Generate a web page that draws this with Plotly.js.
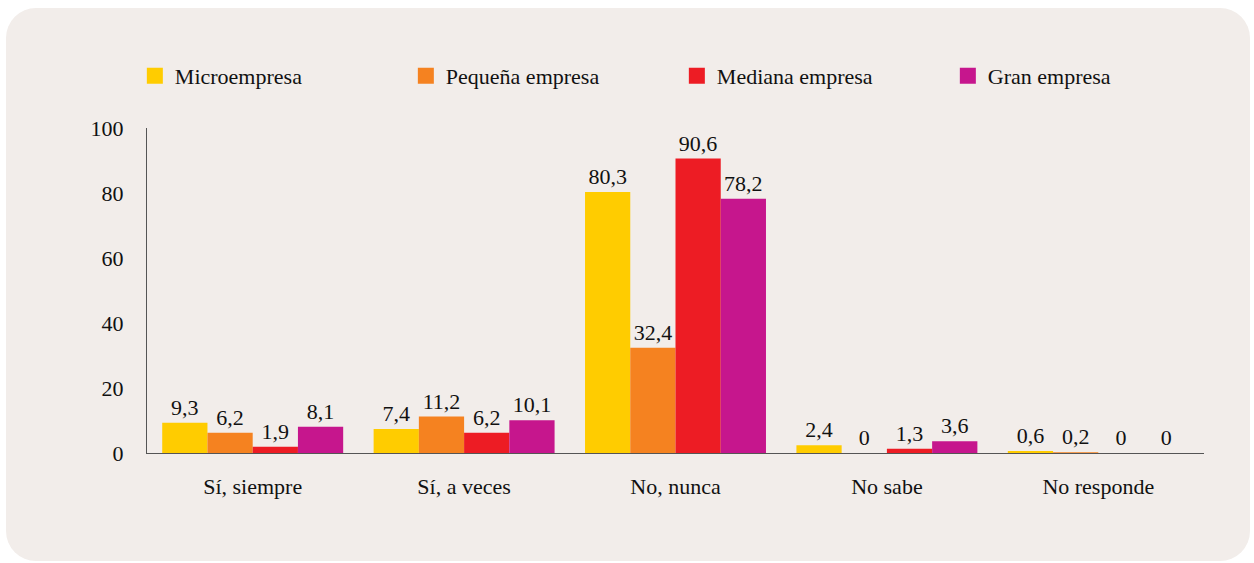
<!DOCTYPE html>
<html>
<head>
<meta charset="utf-8">
<script src="https://cdn.plot.ly/plotly-3.0.1.min.js"></script>
<style>
html, body { margin:0; padding:0; background:#ffffff; }
#bg { position:absolute; left:6px; top:8px; width:1244px; height:553px; background:#f2edea; border-radius:30px; }
#chart { position:absolute; left:0; top:0; width:1254px; height:563px; }
</style>
</head>
<body>
<div id="bg"></div>
<div id="chart"></div>
<script>
const categories = ["Sí, siempre", "Sí, a veces", "No, nunca", "No sabe", "No responde"];
const seriesNames = ["Microempresa", "Pequeña empresa", "Mediana empresa", "Gran empresa"];
const microempresa = [9.3, 7.4, 80.3, 2.4, 0.6];
const pequenaEmpresa = [6.2, 11.2, 32.4, 0, 0.2];
const medianaEmpresa = [1.9, 6.2, 90.6, 1.3, 0];
const granEmpresa = [8.1, 10.1, 78.2, 3.6, 0];
const colors = ["#ffcc00", "#f58220", "#ed1c24", "#c6168d"];
const yTicks = [0, 20, 40, 60, 80, 100];

const FONT = "Liberation Serif, Times New Roman, Times, DejaVu Serif";
const FS = 22;
const seriesValues = [microempresa, pequenaEmpresa, medianaEmpresa, granEmpresa];

const traces = [];
seriesValues.forEach((vals, i) => {
  traces.push({
    type: 'bar',
    name: seriesNames[i],
    x: categories,
    y: vals,
    text: vals.map(v => String(v).replace('.', ',')),
    textposition: 'outside',
    textfont: {family: FONT, size: FS, color: '#111111'},
    cliponaxis: false,
    marker: {color: colors[i], line: {width: 0}},
    showlegend: false,
    hoverinfo: 'skip'
  });
});
seriesValues.forEach((vals, i) => {
  traces.push({
    type: 'scatter',
    mode: 'markers',
    name: seriesNames[i],
    x: [null],
    y: [null],
    marker: {symbol: 'square', size: 20, color: colors[i]},
    showlegend: true,
    hoverinfo: 'skip'
  });
});

const layout = {
  width: 1254,
  height: 563,
  margin: {l: 147, r: 50, t: 128, b: 110, pad: 0},
  paper_bgcolor: 'rgba(0,0,0,0)',
  plot_bgcolor: 'rgba(0,0,0,0)',
  font: {family: FONT, size: FS, color: '#111111'},
  barmode: 'group',
  bargap: 0.144,
  bargroupgap: 0,
  showlegend: true,
  legend: {
    orientation: 'h',
    x: -0.0115, xanchor: 'left',
    y: 1.16, yanchor: 'middle',
    font: {family: FONT, size: FS, color: '#111111'},
    entrywidth: 226,
    entrywidthmode: 'pixels',
    itemsizing: 'trace',
    bgcolor: 'rgba(0,0,0,0)'
  },
  xaxis: {
    type: 'category',
    showline: true,
    linecolor: '#555555',
    linewidth: 1.2,
    ticks: '',
    showgrid: false,
    zeroline: false,
    ticklabelstandoff: 13,
    tickfont: {family: FONT, size: FS, color: '#111111'}
  },
  yaxis: {
    range: [0, 100],
    tickvals: yTicks,
    ticktext: yTicks.map(String),
    showline: true,
    linecolor: '#555555',
    linewidth: 1.2,
    ticks: '',
    showgrid: false,
    zeroline: false,
    ticklabelstandoff: 18,
    tickfont: {family: FONT, size: FS, color: '#111111'}
  }
};

Plotly.newPlot('chart', traces, layout, {displayModeBar: false, staticPlot: true});
</script>
</body>
</html>
